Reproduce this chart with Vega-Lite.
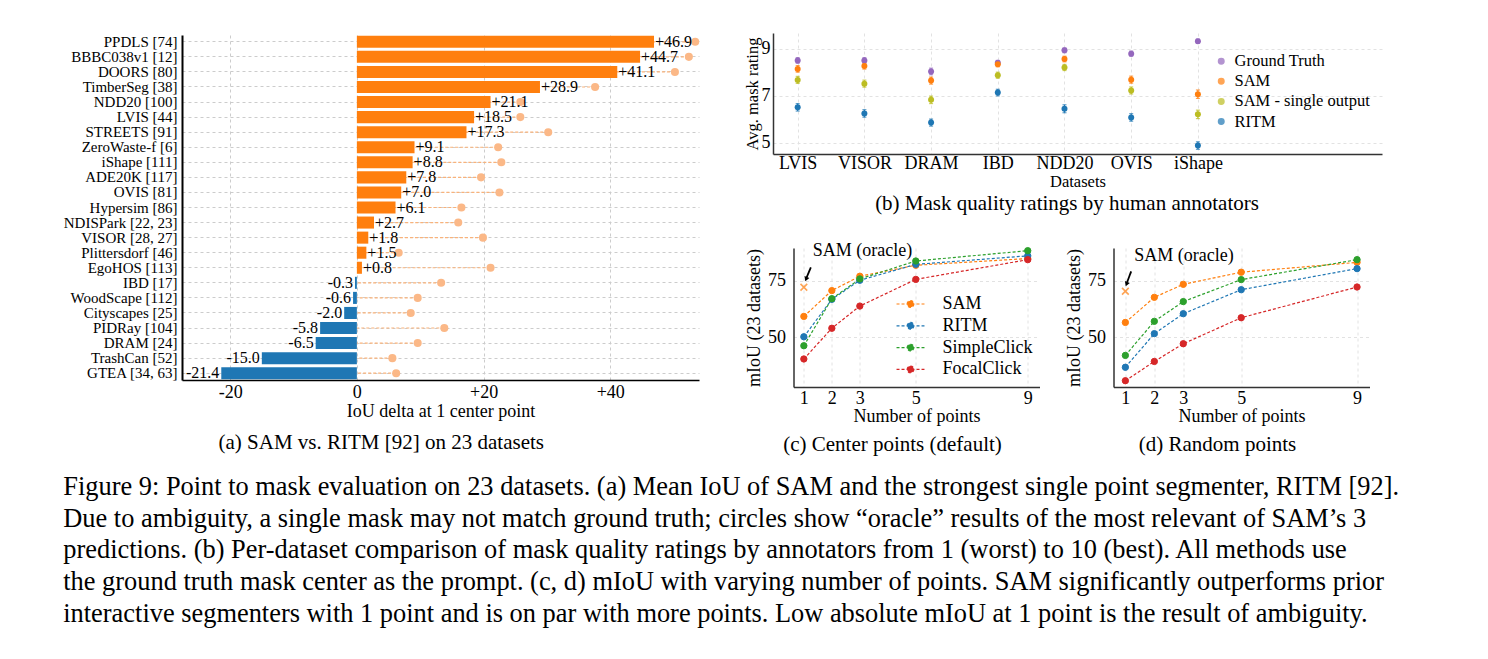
{
"$schema": "https://vega.github.io/schema/vega-lite/v6.json",
"background": "white",
"padding": {"left": 63, "top": 33, "right": 5, "bottom": 5},
"config": {
  "font": "Liberation Serif",
  "locale": {"number": {"decimal": ".", "thousands": ",", "grouping": [3], "currency": ["$", ""], "minus": "-"}},
  "view": {"stroke": null},
  "axis": {"labelFont": "Liberation Serif", "titleFont": "Liberation Serif", "labelColor": "black", "titleColor": "black", "titleFontWeight": "normal", "gridDash": [3, 3], "gridColor": "#d4d4d4", "domainColor": "#333333", "domainWidth": 1.5, "ticks": false, "labelPadding": 4},
  "title": {"font": "Liberation Serif", "fontWeight": "normal", "color": "black"},
  "legend": {"labelFont": "Liberation Serif", "labelColor": "black"}
},
"datasets": {
  "deltas": [
    {"dataset": "PPDLS [74]", "delta": 46.9, "oracle": 53.4},
    {"dataset": "BBBC038v1 [12]", "delta": 44.7, "oracle": 52.4},
    {"dataset": "DOORS [80]", "delta": 41.1, "oracle": 50.2},
    {"dataset": "TimberSeg [38]", "delta": 28.9, "oracle": 37.6},
    {"dataset": "NDD20 [100]", "delta": 21.1, "oracle": 25.8},
    {"dataset": "LVIS [44]", "delta": 18.5, "oracle": 25.8},
    {"dataset": "STREETS [91]", "delta": 17.3, "oracle": 30.2},
    {"dataset": "ZeroWaste-f [6]", "delta": 9.1, "oracle": 22.3},
    {"dataset": "iShape [111]", "delta": 8.8, "oracle": 22.8},
    {"dataset": "ADE20K [117]", "delta": 7.8, "oracle": 19.6},
    {"dataset": "OVIS [81]", "delta": 7.0, "oracle": 22.5},
    {"dataset": "Hypersim [86]", "delta": 6.1, "oracle": 16.5},
    {"dataset": "NDISPark [22, 23]", "delta": 2.7, "oracle": 16.0},
    {"dataset": "VISOR [28, 27]", "delta": 1.8, "oracle": 19.9},
    {"dataset": "Plittersdorf [46]", "delta": 1.5, "oracle": 6.6},
    {"dataset": "EgoHOS [113]", "delta": 0.8, "oracle": 21.1},
    {"dataset": "IBD [17]", "delta": -0.3, "oracle": 13.3},
    {"dataset": "WoodScape [112]", "delta": -0.6, "oracle": 9.6},
    {"dataset": "Cityscapes [25]", "delta": -2.0, "oracle": 8.5},
    {"dataset": "PIDRay [104]", "delta": -5.8, "oracle": 13.8},
    {"dataset": "DRAM [24]", "delta": -6.5, "oracle": 9.6},
    {"dataset": "TrashCan [52]", "delta": -15.0, "oracle": 5.6},
    {"dataset": "GTEA [34, 63]", "delta": -21.4, "oracle": 6.2}
  ],
  "ratings": [
    {"dataset": "LVIS", "idx": 0, "method": "Ground Truth", "rating": 8.51, "err": 0.12},
    {"dataset": "LVIS", "idx": 0, "method": "SAM", "rating": 8.15, "err": 0.14},
    {"dataset": "LVIS", "idx": 0, "method": "SAM - single output", "rating": 7.68, "err": 0.15},
    {"dataset": "LVIS", "idx": 0, "method": "RITM", "rating": 6.51, "err": 0.16},
    {"dataset": "VISOR", "idx": 1, "method": "Ground Truth", "rating": 8.51, "err": 0.12},
    {"dataset": "VISOR", "idx": 1, "method": "SAM", "rating": 8.27, "err": 0.13},
    {"dataset": "VISOR", "idx": 1, "method": "SAM - single output", "rating": 7.52, "err": 0.15},
    {"dataset": "VISOR", "idx": 1, "method": "RITM", "rating": 6.25, "err": 0.16},
    {"dataset": "DRAM", "idx": 2, "method": "Ground Truth", "rating": 8.04, "err": 0.14},
    {"dataset": "DRAM", "idx": 2, "method": "SAM", "rating": 7.65, "err": 0.15},
    {"dataset": "DRAM", "idx": 2, "method": "SAM - single output", "rating": 6.83, "err": 0.16},
    {"dataset": "DRAM", "idx": 2, "method": "RITM", "rating": 5.86, "err": 0.15},
    {"dataset": "IBD", "idx": 3, "method": "Ground Truth", "rating": 8.41, "err": 0.1},
    {"dataset": "IBD", "idx": 3, "method": "SAM", "rating": 8.35, "err": 0.11},
    {"dataset": "IBD", "idx": 3, "method": "SAM - single output", "rating": 7.88, "err": 0.13},
    {"dataset": "IBD", "idx": 3, "method": "RITM", "rating": 7.14, "err": 0.14},
    {"dataset": "NDD20", "idx": 4, "method": "Ground Truth", "rating": 8.94, "err": 0.1},
    {"dataset": "NDD20", "idx": 4, "method": "SAM", "rating": 8.57, "err": 0.12},
    {"dataset": "NDD20", "idx": 4, "method": "SAM - single output", "rating": 8.21, "err": 0.13},
    {"dataset": "NDD20", "idx": 4, "method": "RITM", "rating": 6.45, "err": 0.17},
    {"dataset": "OVIS", "idx": 5, "method": "Ground Truth", "rating": 8.8, "err": 0.11},
    {"dataset": "OVIS", "idx": 5, "method": "SAM", "rating": 7.69, "err": 0.15},
    {"dataset": "OVIS", "idx": 5, "method": "SAM - single output", "rating": 7.23, "err": 0.15},
    {"dataset": "OVIS", "idx": 5, "method": "RITM", "rating": 6.08, "err": 0.16},
    {"dataset": "iShape", "idx": 6, "method": "Ground Truth", "rating": 9.33, "err": 0.09},
    {"dataset": "iShape", "idx": 6, "method": "SAM", "rating": 7.07, "err": 0.18},
    {"dataset": "iShape", "idx": 6, "method": "SAM - single output", "rating": 6.21, "err": 0.18},
    {"dataset": "iShape", "idx": 6, "method": "RITM", "rating": 4.88, "err": 0.16}
  ],
  "center": [
    {"method": "SAM", "points": 1, "miou": 59.2}, {"method": "SAM", "points": 2, "miou": 70.7}, {"method": "SAM", "points": 3, "miou": 77.1}, {"method": "SAM", "points": 5, "miou": 82.0}, {"method": "SAM", "points": 9, "miou": 85.0},
    {"method": "RITM", "points": 1, "miou": 50.1}, {"method": "RITM", "points": 2, "miou": 66.8}, {"method": "RITM", "points": 3, "miou": 75.3}, {"method": "RITM", "points": 5, "miou": 82.4}, {"method": "RITM", "points": 9, "miou": 86.2},
    {"method": "SimpleClick", "points": 1, "miou": 46.1}, {"method": "SimpleClick", "points": 2, "miou": 67.1}, {"method": "SimpleClick", "points": 3, "miou": 75.9}, {"method": "SimpleClick", "points": 5, "miou": 83.9}, {"method": "SimpleClick", "points": 9, "miou": 88.5},
    {"method": "FocalClick", "points": 1, "miou": 40.2}, {"method": "FocalClick", "points": 2, "miou": 53.9}, {"method": "FocalClick", "points": 3, "miou": 63.8}, {"method": "FocalClick", "points": 5, "miou": 75.7}, {"method": "FocalClick", "points": 9, "miou": 84.5}
  ],
  "random": [
    {"method": "SAM", "points": 1, "miou": 56.5}, {"method": "SAM", "points": 2, "miou": 67.7}, {"method": "SAM", "points": 3, "miou": 73.5}, {"method": "SAM", "points": 5, "miou": 78.9}, {"method": "SAM", "points": 9, "miou": 83.3},
    {"method": "RITM", "points": 1, "miou": 36.5}, {"method": "RITM", "points": 2, "miou": 51.5}, {"method": "RITM", "points": 3, "miou": 60.4}, {"method": "RITM", "points": 5, "miou": 71.1}, {"method": "RITM", "points": 9, "miou": 80.5},
    {"method": "SimpleClick", "points": 1, "miou": 41.8}, {"method": "SimpleClick", "points": 2, "miou": 57.0}, {"method": "SimpleClick", "points": 3, "miou": 65.8}, {"method": "SimpleClick", "points": 5, "miou": 75.6}, {"method": "SimpleClick", "points": 9, "miou": 84.5},
    {"method": "FocalClick", "points": 1, "miou": 30.5}, {"method": "FocalClick", "points": 2, "miou": 39.1}, {"method": "FocalClick", "points": 3, "miou": 47.0}, {"method": "FocalClick", "points": 5, "miou": 58.6}, {"method": "FocalClick", "points": 9, "miou": 72.3}
  ]
},
"title": {
  "text": [
    "Figure 9: Point to mask evaluation on 23 datasets. (a) Mean IoU of SAM and the strongest single point segmenter, RITM [92].",
    "Due to ambiguity, a single mask may not match ground truth; circles show \u201coracle\u201d results of the most relevant of SAM\u2019s 3",
    "predictions.  (b) Per-dataset comparison of mask quality ratings by annotators from 1 (worst) to 10 (best).  All methods use",
    "the ground truth mask center as the prompt. (c, d) mIoU with varying number of points. SAM significantly outperforms prior",
    "interactive segmenters with 1 point and is on par with more points. Low absolute mIoU at 1 point is the result of ambiguity."
  ],
  "orient": "bottom", "anchor": "start", "fontSize": 26.4, "lineHeight": 31.7, "offset": 19, "font": "Liberation Serif", "fontWeight": "normal", "color": "black"
},
"resolve": {"scale": {"color": "independent", "fill": "independent", "stroke": "independent"}, "legend": {"color": "independent", "fill": "independent", "stroke": "independent"}},
"center": true,
"spacing": 44,
"hconcat": [
  {
    "width": 517, "height": 345,
    "data": {"name": "deltas"},
    "title": {"text": "(a) SAM vs. RITM [92] on 23 datasets", "orient": "bottom", "anchor": "middle", "frame": "bounds", "fontSize": 21, "offset": 12},
    "encoding": {
      "y": {"field": "dataset", "type": "nominal", "sort": null, "scale": {"paddingInner": 0.2, "paddingOuter": 0.05},
        "axis": {"title": null, "grid": true, "gridColor": "#cccccc", "labelFontSize": 15, "domainColor": "black", "domainWidth": 2, "labelPadding": 5}}
    },
    "layer": [
      {"mark": {"type": "rule", "color": "#f9b27a", "strokeDash": [3, 2], "strokeWidth": 1.2},
       "encoding": {
         "x": {"field": "oracle", "type": "quantitative", "scale": {"domain": [-27.6, 54], "nice": false, "zero": false},
           "axis": {"values": [-20, 0, 20, 40], "labelExpr": "datum.value > 0 ? '+' + datum.label : datum.label", "title": "IoU delta at 1 center point", "titleFontSize": 18, "labelFontSize": 18, "grid": true, "gridColor": "#cccccc", "domainColor": "black", "domainWidth": 1.5, "labelPadding": 3, "titlePadding": 1}},
         "x2": {"datum": 0}}},
      {"mark": {"type": "bar"},
       "encoding": {
         "x": {"field": "delta", "type": "quantitative", "scale": {"domain": [-27.6, 54], "nice": false, "zero": false},
           "axis": {"values": [-20, 0, 20, 40], "labelExpr": "datum.value > 0 ? '+' + datum.label : datum.label", "title": "IoU delta at 1 center point", "titleFontSize": 18, "labelFontSize": 18, "grid": true, "gridColor": "#cccccc", "domainColor": "black", "domainWidth": 1.5, "labelPadding": 3, "titlePadding": 1}},
         "color": {"condition": {"test": "datum.delta < 0", "value": "#1f77b4"}, "value": "#ff7f0e"}}},
      {"mark": {"type": "point", "filled": true, "size": 65, "color": "#fbb887", "opacity": 1},
       "encoding": {"x": {"field": "oracle", "type": "quantitative", "scale": {"domain": [-27.6, 54], "nice": false, "zero": false},
           "axis": {"values": [-20, 0, 20, 40], "labelExpr": "datum.value > 0 ? '+' + datum.label : datum.label", "title": "IoU delta at 1 center point", "titleFontSize": 18, "labelFontSize": 18, "grid": true, "gridColor": "#cccccc", "domainColor": "black", "domainWidth": 1.5, "labelPadding": 3, "titlePadding": 1}}}},
      {"transform": [{"filter": "datum.delta >= 0"}],
       "mark": {"type": "text", "align": "left", "baseline": "middle", "dx": 1, "fontSize": 16, "color": "black"},
       "encoding": {"x": {"field": "delta", "type": "quantitative", "scale": {"domain": [-27.6, 54], "nice": false, "zero": false},
           "axis": {"values": [-20, 0, 20, 40], "labelExpr": "datum.value > 0 ? '+' + datum.label : datum.label", "title": "IoU delta at 1 center point", "titleFontSize": 18, "labelFontSize": 18, "grid": true, "gridColor": "#cccccc", "domainColor": "black", "domainWidth": 1.5, "labelPadding": 3, "titlePadding": 1}},
         "text": {"field": "delta", "format": "+.1f"}}},
      {"transform": [{"filter": "datum.delta < 0"}],
       "mark": {"type": "text", "align": "right", "baseline": "middle", "dx": -2, "fontSize": 16, "color": "black"},
       "encoding": {"x": {"field": "delta", "type": "quantitative", "scale": {"domain": [-27.6, 54], "nice": false, "zero": false},
           "axis": {"values": [-20, 0, 20, 40], "labelExpr": "datum.value > 0 ? '+' + datum.label : datum.label", "title": "IoU delta at 1 center point", "titleFontSize": 18, "labelFontSize": 18, "grid": true, "gridColor": "#cccccc", "domainColor": "black", "domainWidth": 1.5, "labelPadding": 3, "titlePadding": 1}},
         "text": {"field": "delta", "format": ".1f"}}}
    ]
  },
  {
    "center": true,
    "spacing": 28,
    "resolve": {"scale": {"color": "independent", "fill": "independent", "stroke": "independent"}, "legend": {"color": "independent", "fill": "independent", "stroke": "independent"}},
    "vconcat": [
      {
        "width": 609, "height": 121,
        "data": {"name": "ratings"},
        "title": {"text": "(b) Mask quality ratings by human annotators", "orient": "bottom", "anchor": "middle", "frame": "bounds", "fontSize": 21, "offset": 3},
        "encoding": {
          "x": {"field": "idx", "type": "quantitative", "scale": {"domain": [-0.37, 8.76], "nice": false, "zero": false},
            "axis": {"values": [0, 1, 2, 3, 4, 5, 6], "labelExpr": "['LVIS','VISOR','DRAM','IBD','NDD20','OVIS','iShape'][datum.value]", "title": "Datasets", "titleFontSize": 16.5, "labelFontSize": 18, "grid": true, "gridColor": "#e2e2e2", "labelPadding": 0, "titlePadding": 1}},
          "y": {"field": "rating", "type": "quantitative", "scale": {"domain": [4.52, 9.68], "nice": false, "zero": false},
            "axis": {"values": [5, 7, 9], "title": "Avg. mask rating", "titleFontSize": 16.5, "labelFontSize": 18, "grid": true, "gridColor": "#e2e2e2", "labelPadding": 3, "titlePadding": 1}},
          "color": {"field": "method", "type": "nominal", "scale": {"domain": ["Ground Truth", "SAM", "SAM - single output", "RITM"], "range": ["#9467bd", "#ff7f0e", "#bcbd22", "#1f77b4"]},
            "legend": {"title": null, "orient": "none", "legendX": 420, "legendY": 0, "padding": 20, "labelFontSize": 16.5, "symbolSize": 30, "symbolType": "circle", "rowPadding": 3.1, "labelOffset": 5}}
        },
        "layer": [
          {"mark": {"type": "errorbar", "ticks": {"size": 4}, "thickness": 1.2},
           "encoding": {"yError": {"field": "err"}}},
          {"mark": {"type": "point", "filled": true, "size": 36, "opacity": 1}}
        ]
      },
      {
        "spacing": 25,
        "resolve": {"scale": {"fill": "independent", "stroke": "independent"}, "legend": {"fill": "independent", "stroke": "independent"}},
        "hconcat": [
          {
            "width": 246, "height": 139,
            "title": {"text": "(c) Center points (default)", "orient": "bottom", "anchor": "middle", "frame": "bounds", "fontSize": 21, "offset": 9},
            "encoding": {
              "x": {"field": "points", "type": "quantitative", "scale": {"domain": [0.63, 9.42], "nice": false, "zero": false},
                "axis": {"values": [1, 2, 3, 5, 9], "title": "Number of points", "titleFontSize": 18, "labelFontSize": 18, "grid": true, "gridColor": "#e2e2e2", "labelPadding": 2, "titlePadding": 0}},
              "y": {"field": "miou", "type": "quantitative", "scale": {"domain": [27.7, 89.7], "nice": false, "zero": false},
                "axis": {"values": [50, 75], "title": "mIoU (23 datasets)", "titleFontSize": 18, "labelFontSize": 18, "grid": true, "gridColor": "#e2e2e2", "labelPadding": 8, "titlePadding": 4}}
            },
            "layer": [
              {"data": {"name": "center"},
               "mark": {"type": "line", "strokeDash": [3, 2], "strokeWidth": 1.2},
               "encoding": {
                 "stroke": {"field": "method", "type": "nominal", "scale": {"domain": ["SAM", "RITM", "SimpleClick", "FocalClick"], "range": ["#ff7f0e", "#1f77b4", "#2ca02c", "#d62728"]},
                   "legend": {"title": null, "orient": "none", "legendX": 105, "legendY": 44, "labelFontSize": 18, "symbolSize": 500, "symbolType": "M-1.25,0L1.25,0M-0.3,0A0.3,0.3,0,1,1,0.3,0A0.3,0.3,0,1,1,-0.3,0Z", "symbolDash": [3, 2], "symbolStrokeWidth": 1.2, "rowPadding": 0.8, "labelOffset": 20}}}},
              {"data": {"name": "center"},
               "mark": {"type": "point", "filled": true, "size": 40, "opacity": 1, "strokeWidth": 1},
               "encoding": {
                 "stroke": {"field": "method", "type": "nominal", "scale": {"domain": ["SAM", "RITM", "SimpleClick", "FocalClick"], "range": ["#ff7f0e", "#1f77b4", "#2ca02c", "#d62728"]},
                   "legend": {"title": null, "orient": "none", "legendX": 105, "legendY": 44, "labelFontSize": 18, "symbolSize": 500, "symbolType": "M-1.25,0L1.25,0M-0.3,0A0.3,0.3,0,1,1,0.3,0A0.3,0.3,0,1,1,-0.3,0Z", "symbolDash": [3, 2], "symbolStrokeWidth": 1.2, "rowPadding": 0.8, "labelOffset": 20}},
                 "fill": {"field": "method", "type": "nominal", "scale": {"domain": ["SAM", "RITM", "SimpleClick", "FocalClick"], "range": ["#ff7f0e", "#1f77b4", "#2ca02c", "#d62728"]},
                   "legend": {"title": null, "orient": "none", "legendX": 105, "legendY": 44, "labelFontSize": 18, "symbolSize": 500, "symbolType": "M-1.25,0L1.25,0M-0.3,0A0.3,0.3,0,1,1,0.3,0A0.3,0.3,0,1,1,-0.3,0Z", "symbolDash": [3, 2], "symbolStrokeWidth": 1.2, "rowPadding": 0.8, "labelOffset": 20}}}},
              {"data": {"values": [{"points": 1, "miou": 72.2}]},
               "mark": {"type": "point", "shape": "M-1,-1L1,1M-1,1L1,-1", "filled": false, "size": 45, "stroke": "#ff7f0e", "strokeWidth": 1.6}},
              {"data": {"values": [{"points": 1.32, "miou": 88.3, "label": "SAM (oracle)"}]},
               "mark": {"type": "text", "align": "left", "baseline": "middle", "fontSize": 18, "color": "black"},
               "encoding": {"text": {"field": "label"}}},
              {"data": {"values": [{"points": 1.25, "miou": 81.1, "points2": 1.1, "miou2": 76.6}]},
               "mark": {"type": "rule", "color": "black", "strokeWidth": 1.8},
               "encoding": {"x2": {"field": "points2"}, "y2": {"field": "miou2"}}},
              {"data": {"values": [{"points": 1.08, "miou": 75.8}]},
               "mark": {"type": "point", "shape": "triangle-down", "angle": 21, "filled": true, "size": 28, "color": "black", "opacity": 1}}
            ]
          },
          {
            "width": 256, "height": 139,
            "title": {"text": "(d) Random points", "orient": "bottom", "anchor": "middle", "frame": "bounds", "fontSize": 21, "offset": 9},
            "encoding": {
              "x": {"field": "points", "type": "quantitative", "scale": {"domain": [0.59, 9.43], "nice": false, "zero": false},
                "axis": {"values": [1, 2, 3, 5, 9], "title": "Number of points", "titleFontSize": 18, "labelFontSize": 18, "grid": true, "gridColor": "#e2e2e2", "labelPadding": 2, "titlePadding": 0}},
              "y": {"field": "miou", "type": "quantitative", "scale": {"domain": [27.7, 89.7], "nice": false, "zero": false},
                "axis": {"values": [50, 75], "title": "mIoU (23 datasets)", "titleFontSize": 18, "labelFontSize": 18, "grid": true, "gridColor": "#e2e2e2", "labelPadding": 8, "titlePadding": 4}}
            },
            "layer": [
              {"data": {"name": "random"},
               "mark": {"type": "line", "strokeDash": [3, 2], "strokeWidth": 1.2},
               "encoding": {
                 "stroke": {"field": "method", "type": "nominal", "scale": {"domain": ["SAM", "RITM", "SimpleClick", "FocalClick"], "range": ["#ff7f0e", "#1f77b4", "#2ca02c", "#d62728"]}, "legend": null}}},
              {"data": {"name": "random"},
               "mark": {"type": "point", "filled": true, "size": 40, "opacity": 1, "strokeWidth": 1},
               "encoding": {
                 "stroke": {"field": "method", "type": "nominal", "scale": {"domain": ["SAM", "RITM", "SimpleClick", "FocalClick"], "range": ["#ff7f0e", "#1f77b4", "#2ca02c", "#d62728"]}, "legend": null},
                 "fill": {"field": "method", "type": "nominal", "scale": {"domain": ["SAM", "RITM", "SimpleClick", "FocalClick"], "range": ["#ff7f0e", "#1f77b4", "#2ca02c", "#d62728"]}, "legend": null}}},
              {"data": {"values": [{"points": 1, "miou": 70.4}]},
               "mark": {"type": "point", "shape": "M-1,-1L1,1M-1,1L1,-1", "filled": false, "size": 45, "stroke": "#ff7f0e", "strokeWidth": 1.6}},
              {"data": {"values": [{"points": 1.31, "miou": 86.2, "label": "SAM (oracle)"}]},
               "mark": {"type": "text", "align": "left", "baseline": "middle", "fontSize": 18, "color": "black"},
               "encoding": {"text": {"field": "label"}}},
              {"data": {"values": [{"points": 1.2, "miou": 79.3, "points2": 1.06, "miou2": 74.4}]},
               "mark": {"type": "rule", "color": "black", "strokeWidth": 1.8},
               "encoding": {"x2": {"field": "points2"}, "y2": {"field": "miou2"}}},
              {"data": {"values": [{"points": 1.04, "miou": 73.6}]},
               "mark": {"type": "point", "shape": "triangle-down", "angle": 21, "filled": true, "size": 28, "color": "black", "opacity": 1}}
            ]
          }
        ]
      }
    ]
  }
]
}
